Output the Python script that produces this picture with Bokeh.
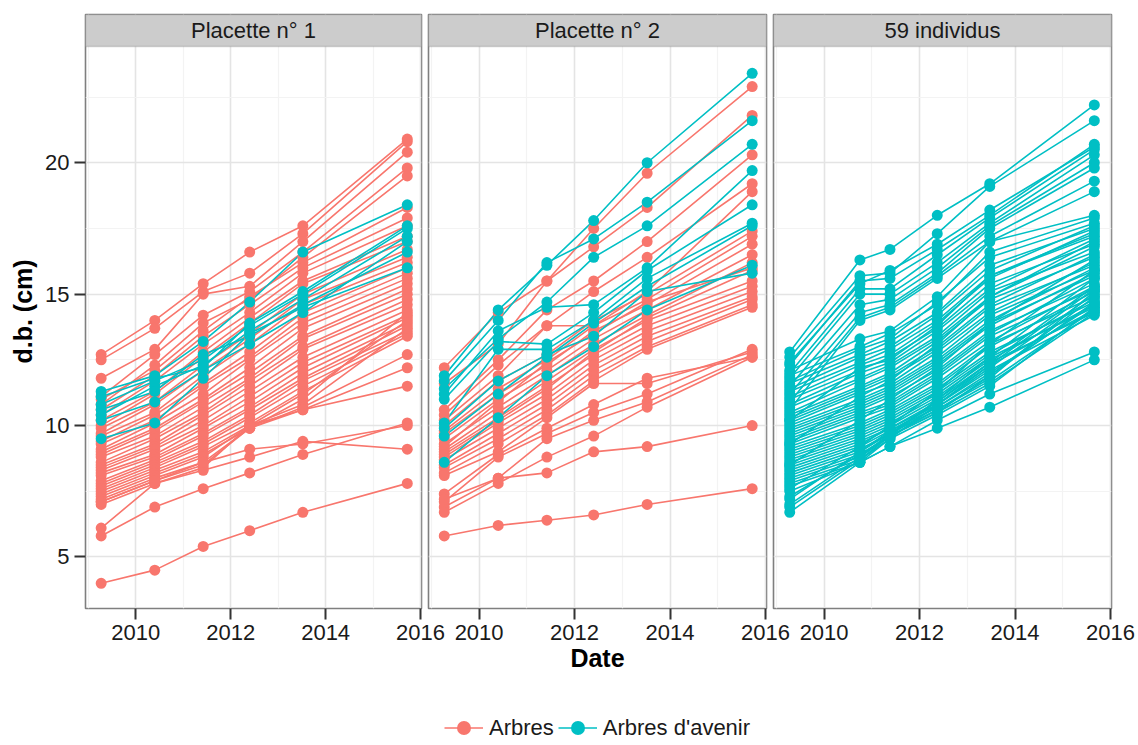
from bokeh.plotting import figure
from bokeh.models import (ColumnDataSource, Range1d, FixedTicker, BoxAnnotation, Label,
                          Legend, LegendItem, Grid)
from bokeh.layouts import row, column
from bokeh.embed import file_html
from bokeh.resources import INLINE

# ---------------- data ----------------
dates_p12 = [2009.27, 2010.40, 2011.42, 2012.40, 2013.52, 2015.72]
dates_p3 = [2009.28, 2010.75, 2011.38, 2012.37, 2013.47, 2015.66]
panel_titles = ["Placette n° 1", "Placette n° 2", "59 individus"]
legend_labels = ["Arbres", "Arbres d'avenir"]
x_ticks = [2010, 2012, 2014, 2016]
x_minor = [2009, 2011, 2013, 2015]
y_ticks = [5, 10, 15, 20]
y_minor = [7.5, 12.5, 17.5, 22.5]

p1_arbres = [
    [12.7, 14.0, 15.4, 16.6, 17.6, 20.9],
    [12.5, 13.7, 15.1, 15.8, 17.3, 20.8],
    [11.8, 12.9, 15.0, 15.3, 17.0, 20.4],
    [11.1, 12.7, 14.2, 15.1, 16.6, 19.8],
    [10.8, 12.3, 13.9, 14.8, 16.4, 19.5],
    [11.0, 12.1, 13.6, 14.9, 16.2, 18.3],
    [10.6, 11.9, 13.4, 14.6, 16.0, 17.9],
    [10.4, 11.7, 13.1, 14.3, 15.8, 17.6],
    [10.2, 11.3, 12.8, 14.1, 15.5, 17.2],
    [10.0, 11.2, 12.6, 13.9, 15.4, 17.0],
    [9.9, 10.9, 12.3, 13.5, 15.0, 16.7],
    [9.7, 10.8, 12.1, 13.3, 14.8, 16.4],
    [9.6, 10.5, 11.9, 13.1, 14.6, 16.2],
    [9.4, 10.4, 11.6, 12.8, 14.3, 16.0],
    [9.3, 10.2, 11.5, 12.6, 14.1, 15.8],
    [9.1, 10.1, 11.2, 12.5, 13.9, 15.6],
    [9.0, 9.9, 11.0, 12.2, 13.7, 15.4],
    [8.9, 9.8, 10.9, 12.0, 13.4, 15.2],
    [8.8, 9.6, 10.7, 11.8, 13.3, 15.0],
    [8.6, 9.5, 10.5, 11.7, 13.0, 14.8],
    [8.5, 9.3, 10.4, 11.5, 12.9, 14.6],
    [8.4, 9.2, 10.2, 11.3, 12.6, 14.4],
    [8.3, 9.1, 10.0, 11.1, 12.4, 14.2],
    [8.2, 8.9, 9.9, 10.9, 12.2, 14.1],
    [8.1, 8.8, 9.7, 10.7, 12.0, 13.9],
    [7.9, 8.7, 9.6, 10.6, 11.8, 13.8],
    [7.8, 8.6, 9.4, 10.4, 11.7, 13.6],
    [7.7, 8.5, 9.3, 10.3, 11.5, 13.5],
    [7.6, 8.4, 9.2, 10.1, 11.3, 13.4],
    [7.5, 8.3, 9.0, 10.0, 11.2, 14.0],
    [7.4, 8.2, 8.9, 9.9, 11.0, 14.3],
    [7.3, 8.1, 8.8, 10.0, 10.8, 13.7],
    [7.2, 8.0, 8.6, 9.9, 10.7, 12.7],
    [7.1, 7.9, 8.5, 9.9, 10.6, 12.2],
    [7.0, 7.8, 8.4, 10.0, 10.6, 11.5],
    [6.1, 7.8, 8.3, 8.8, 9.4, 9.1],
    [7.1, 7.9, 8.6, 9.1, 9.3, 10.0],
    [5.8, 6.9, 7.6, 8.2, 8.9, 10.1],
    [4.0, 4.5, 5.4, 6.0, 6.7, 7.8],
]
p1_avenir = [
    [11.3, 11.9, 13.2, 14.7, 16.6, 18.4],
    [10.8, 11.7, 12.5, 13.8, 15.0, 17.5],
    [10.4, 11.5, 12.3, 13.6, 14.8, 17.2],
    [10.6, 11.3, 12.7, 13.4, 14.6, 16.6],
    [9.5, 10.1, 11.8, 13.5, 14.5, 16.0],
    [10.2, 10.9, 12.1, 13.1, 14.3, 17.0],
    [11.1, 11.8, 12.2, 13.9, 15.1, 17.6],
]
p2_arbres = [
    [12.2, 14.3, 15.5, 17.5, 19.6, 22.9],
    [11.6, 13.1, 15.5, 16.8, 18.3, 21.8],
    [10.6, 12.5, 14.4, 15.5, 17.0, 20.3],
    [10.4, 12.3, 13.8, 15.1, 16.4, 19.2],
    [10.2, 11.9, 13.8, 13.8, 15.1, 18.9],
    [10.0, 11.7, 12.7, 14.0, 15.0, 17.4],
    [9.8, 11.4, 12.5, 13.8, 14.8, 17.2],
    [9.7, 11.2, 12.3, 13.6, 14.6, 16.9],
    [9.5, 11.0, 12.1, 13.3, 14.4, 16.5],
    [9.3, 10.7, 11.9, 13.1, 14.2, 16.2],
    [9.1, 10.5, 11.7, 12.9, 14.0, 15.5],
    [9.0, 10.3, 11.5, 12.7, 13.8, 15.3],
    [8.8, 10.1, 11.2, 12.5, 13.6, 15.1],
    [8.7, 9.9, 11.0, 12.3, 13.4, 14.9],
    [8.5, 9.7, 10.8, 12.1, 13.2, 14.8],
    [8.4, 9.5, 10.6, 11.9, 13.0, 14.6],
    [8.2, 9.3, 10.4, 11.7, 12.9, 14.5],
    [8.1, 9.0, 10.3, 11.6, 11.6, 12.8],
    [7.4, 8.9, 9.9, 10.8, 11.8, 12.6],
    [7.1, 8.8, 9.7, 10.5, 11.2, 12.9],
    [6.9, 8.0, 9.5, 10.2, 10.9, 12.7],
    [6.7, 7.8, 8.8, 9.6, 10.7, 12.6],
    [7.2, 8.0, 8.2, 9.0, 9.2, 10.0],
    [5.8, 6.2, 6.4, 6.6, 7.0, 7.6],
    [9.2, 10.9, 12.4, 13.5, 14.7, 16.0],
    [8.9, 10.2, 11.4, 12.8, 14.1, 15.9],
]
p2_avenir = [
    [11.9, 14.4, 16.1, 17.8, 20.0, 23.4],
    [11.7, 14.0, 16.2, 17.1, 18.5, 21.6],
    [11.4, 13.3, 14.7, 16.4, 17.6, 20.7],
    [11.2, 13.6, 14.5, 14.6, 16.0, 19.7],
    [11.0, 13.2, 13.1, 14.3, 15.9, 18.4],
    [10.1, 12.9, 12.9, 14.0, 15.6, 17.7],
    [9.9, 11.7, 12.7, 13.4, 15.1, 15.8],
    [9.6, 11.2, 12.6, 13.9, 15.3, 17.6],
    [8.6, 10.3, 11.9, 13.0, 14.4, 16.1],
]
p3_arbres = []
p3_avenir = [
    [12.8, 16.3, 16.7, 18.0, 19.2, 22.2],
    [12.6, 15.7, 15.8, 17.3, 19.1, 21.6],
    [12.3, 15.5, 15.6, 16.7, 18.0, 20.7],
    [12.0, 15.2, 15.2, 16.5, 17.9, 20.5],
    [11.8, 15.0, 15.0, 16.2, 17.7, 20.3],
    [11.5, 14.6, 14.8, 16.0, 17.6, 20.0],
    [11.2, 14.3, 14.6, 15.8, 17.5, 19.8],
    [10.9, 14.1, 14.5, 15.7, 17.2, 19.3],
    [10.6, 14.0, 14.4, 15.6, 17.0, 18.9],
    [12.4, 15.4, 15.9, 16.9, 18.2, 20.6],
    [12.1, 13.3, 13.6, 14.9, 17.0, 18.0],
    [11.9, 13.0, 13.5, 14.6, 16.6, 17.9],
    [11.7, 12.9, 13.3, 14.7, 16.4, 17.7],
    [11.6, 12.7, 13.2, 14.3, 16.1, 17.5],
    [11.4, 12.6, 13.0, 14.2, 15.9, 17.6],
    [11.3, 12.4, 12.9, 14.0, 15.7, 17.2],
    [11.1, 12.3, 12.7, 13.9, 15.6, 17.4],
    [11.0, 12.1, 12.6, 13.7, 15.4, 16.9],
    [10.8, 12.0, 12.4, 13.6, 15.2, 17.1],
    [10.7, 11.8, 12.3, 13.4, 15.1, 16.6],
    [10.5, 11.7, 12.2, 13.3, 14.9, 16.8],
    [10.4, 11.5, 12.0, 13.2, 14.8, 16.4],
    [10.3, 11.4, 11.9, 13.0, 14.6, 16.5],
    [10.2, 11.3, 11.8, 12.9, 14.5, 16.1],
    [10.1, 11.2, 11.6, 12.8, 14.3, 16.2],
    [10.0, 11.0, 11.5, 12.6, 14.2, 15.9],
    [9.9, 10.9, 11.4, 12.5, 14.0, 16.0],
    [9.8, 10.8, 11.3, 12.4, 13.9, 15.7],
    [9.7, 10.7, 11.2, 12.3, 13.8, 15.8],
    [9.6, 10.6, 11.1, 12.1, 13.6, 15.4],
    [9.5, 10.5, 10.9, 12.0, 13.5, 15.6],
    [9.4, 10.4, 10.8, 11.9, 13.4, 15.2],
    [9.3, 10.3, 10.7, 11.8, 13.2, 15.3],
    [9.2, 10.1, 10.6, 11.6, 13.1, 14.9],
    [9.1, 10.0, 10.5, 11.5, 13.0, 15.1],
    [9.0, 9.9, 10.4, 11.4, 12.8, 14.7],
    [8.9, 9.8, 10.3, 11.3, 12.7, 14.8],
    [8.8, 9.7, 10.2, 11.2, 12.6, 14.5],
    [8.7, 9.6, 10.1, 11.1, 12.5, 14.6],
    [8.6, 9.5, 10.0, 11.0, 12.4, 14.3],
    [8.5, 9.4, 9.9, 10.9, 12.3, 14.4],
    [8.4, 9.3, 9.9, 10.8, 12.1, 14.2],
    [8.3, 9.2, 9.8, 10.7, 12.0, 14.6],
    [8.2, 9.1, 9.7, 10.7, 11.9, 14.9],
    [8.1, 9.0, 9.7, 10.6, 11.8, 15.1],
    [8.0, 8.9, 9.6, 10.6, 11.7, 14.4],
    [7.9, 8.8, 9.6, 10.5, 11.6, 14.3],
    [7.8, 8.7, 9.5, 10.4, 11.5, 14.5],
    [7.7, 8.6, 9.2, 10.2, 11.2, 12.8],
    [7.5, 8.6, 9.2, 9.9, 10.7, 12.5],
    [7.3, 8.9, 9.6, 10.5, 11.9, 14.7],
    [7.2, 9.0, 9.8, 10.8, 12.2, 15.0],
    [7.0, 8.8, 9.7, 10.9, 12.4, 15.3],
    [6.9, 8.7, 9.6, 11.0, 12.6, 15.6],
    [6.7, 8.6, 9.5, 10.8, 12.3, 15.2],
    [7.6, 9.2, 10.0, 11.3, 13.1, 15.9],
    [8.5, 10.2, 11.0, 12.2, 13.9, 16.3],
    [9.3, 11.1, 11.7, 13.1, 14.9, 17.0],
    [10.2, 12.2, 12.5, 13.8, 15.7, 17.3],
]

# ---------------- styling ----------------
FONT = "Liberation Sans"
RED = "#F8766D"
TEAL = "#00BFC4"
BORDER = "#7F7F7F"
X_START, X_END = 2008.94, 2016.02
Y_START, Y_PANEL_END, Y_END = 3.04, 24.42, 25.64
FRAME_H = 594
TOP = 14
BOTTOM = 80
TOTAL_H = 745
LINE_W = 1.6
PT_SIZE = 11


def add_lines(p, dates, trees, color):
    if not trees:
        return None
    src = ColumnDataSource(dict(xs=[list(dates) for _ in trees], ys=trees))
    return p.multi_line("xs", "ys", source=src, line_color=color, line_width=LINE_W)


def add_points(p, dates, trees, color):
    if not trees:
        return None
    src = ColumnDataSource(dict(x=[d for t in trees for d in dates],
                                y=[v for t in trees for v in t]))
    return p.scatter("x", "y", source=src, size=PT_SIZE, fill_color=color, line_color=None)


def make_panel(title, dates, arbres, avenir, frame_w, bl, br, first, xlabel):
    p = figure(frame_width=frame_w, frame_height=FRAME_H,
               x_range=Range1d(X_START, X_END), y_range=Range1d(Y_START, Y_END),
               output_backend="svg", toolbar_location=None,
               min_border_left=bl, min_border_right=br, min_border_top=TOP,
               min_border_bottom=BOTTOM,
               y_axis_type="linear" if first else None,
               background_fill_color="white", border_fill_color=None,
               outline_line_color=BORDER, outline_line_width=1.6)
    # grids
    p.xgrid.ticker = FixedTicker(ticks=x_ticks, minor_ticks=x_minor)
    p.xgrid.grid_line_color = "#E4E4E4"
    p.xgrid.grid_line_width = 1.6
    p.xgrid.minor_grid_line_color = "#F3F3F3"
    p.xgrid.minor_grid_line_width = 1.2
    if first:
        yg = p.ygrid[0]
    else:
        yg = Grid(dimension=1)
        p.add_layout(yg, "center")
    yg.ticker = FixedTicker(ticks=y_ticks, minor_ticks=y_minor)
    yg.grid_line_color = "#E4E4E4"
    yg.grid_line_width = 1.6
    yg.minor_grid_line_color = "#F3F3F3"
    yg.minor_grid_line_width = 1.2

    axes = [p.xaxis[0]] + ([p.yaxis[0]] if first else [])
    for ax in axes:
        ax.axis_line_color = None
        ax.major_tick_in = 0
        ax.major_tick_out = 11
        ax.major_tick_line_color = "#333333"
        ax.major_tick_line_width = 2
        ax.minor_tick_line_color = None
        ax.major_label_text_font = FONT
        ax.major_label_text_font_size = "22px"
        ax.major_label_text_color = "#1A1A1A"
        ax.major_label_standoff = 5
        ax.axis_label_text_font = FONT
        ax.axis_label_text_font_size = "25px"
        ax.axis_label_text_font_style = "bold"
        ax.axis_label_text_color = "#000000"
    p.xaxis.ticker = FixedTicker(ticks=x_ticks)
    if first:
        p.yaxis.ticker = FixedTicker(ticks=y_ticks)
        p.yaxis.axis_label = "d.b. (cm)"
        p.yaxis.axis_label_standoff = 5
        p.yaxis.major_label_orientation = "horizontal"
    if xlabel:
        p.xaxis.axis_label = xlabel
        p.xaxis.axis_label_standoff = 1

    # data
    r_line = add_lines(p, dates, arbres, RED)
    t_line = add_lines(p, dates, avenir, TEAL)
    r_pts = add_points(p, dates, arbres, RED)
    t_pts = add_points(p, dates, avenir, TEAL)

    # strip
    p.add_layout(BoxAnnotation(bottom=Y_PANEL_END, fill_color="#CCCCCC", fill_alpha=1.0,
                               line_color=BORDER, line_width=1.6))
    p.add_layout(Label(x=(X_START + X_END) / 2, y=(Y_PANEL_END + Y_END) / 2, text=title,
                       text_align="center", text_baseline="middle", text_font=FONT,
                       text_font_size="22px", text_color="#1A1A1A"))
    return p, (r_line, r_pts, t_line, t_pts)


f1, _ = make_panel(panel_titles[0], dates_p12, p1_arbres, p1_avenir, 336, 85, 26, True, None)
f2, rends = make_panel(panel_titles[1], dates_p12, p2_arbres, p2_avenir, 338, 7, 26, False, "Date")
f3, _ = make_panel(panel_titles[2], dates_p3, p3_arbres, p3_avenir, 338, 7, 27, False, None)
f2.margin = (0, 0, 0, -26)
f3.margin = (0, 0, 0, -26)

# legend strip under the panels; its key glyphs reuse the middle panel's data sources
# (the strip's ranges keep those data out of view, only the legend keys show)
r_line, r_pts, t_line, t_pts = rends
lg = figure(width=1138, height=TOTAL_H - TOP - FRAME_H - BOTTOM,
            x_range=Range1d(0, 1), y_range=Range1d(0, 1),
            x_axis_type=None, y_axis_type=None, toolbar_location=None,
            output_backend="svg", min_border=0, outline_line_color=None,
            border_fill_color=None, background_fill_color=None)
la = lg.multi_line("xs", "ys", source=r_line.data_source, line_color=RED, line_width=LINE_W)
sa = lg.scatter("x", "y", source=r_pts.data_source, size=PT_SIZE, fill_color=RED, line_color=None)
lb = lg.multi_line("xs", "ys", source=t_line.data_source, line_color=TEAL, line_width=LINE_W)
sb = lg.scatter("x", "y", source=t_pts.data_source, size=PT_SIZE, fill_color=TEAL, line_color=None)
legend = Legend(items=[LegendItem(label=legend_labels[0], renderers=[la, sa]),
                       LegendItem(label=legend_labels[1], renderers=[lb, sb])],
                orientation="horizontal", location=(444, 0),
                border_line_color=None, background_fill_alpha=0,
                padding=0, margin=0, spacing=4, label_standoff=6,
                glyph_width=39, glyph_height=35, label_height=35,
                label_text_font=FONT, label_text_font_size="22px",
                label_text_color="#1A1A1A", label_text_baseline="middle")
lg.add_layout(legend)

layout = column(row(f1, f2, f3), lg)

with open("out.html", "w") as fh:
    fh.write(file_html(layout, INLINE))
